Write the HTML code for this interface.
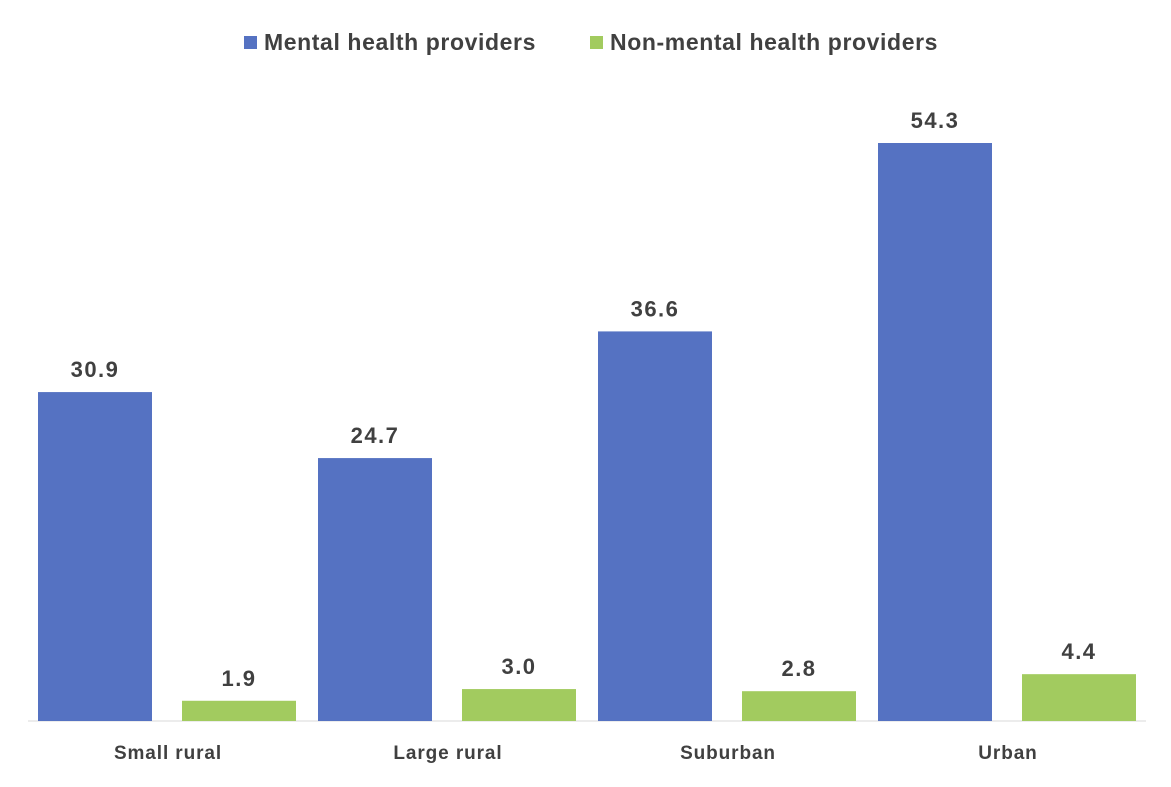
<!DOCTYPE html>
<html><head><meta charset="utf-8"><style>
body{margin:0;background:#fff;font-family:"Liberation Sans",Arial,sans-serif;}
svg text{font-family:"Liberation Sans",Arial,sans-serif;font-weight:bold;fill:#404040;}
</style></head><body>
<svg id="chart" width="1171" height="782">
<g>
<rect x="244" y="36" width="13" height="13" fill="#5572C2"/>
<text x="264" y="50" font-size="23" letter-spacing="0.6">Mental health providers</text>
<rect x="590" y="36" width="13" height="13" fill="#A2CB5F"/>
<text x="610" y="50" font-size="23" letter-spacing="0.6">Non-mental health providers</text>
</g>
<line x1="28" y1="721" x2="1146" y2="721" stroke="#d9d9d9" stroke-width="1"/>
<g id="bars"></g>
</svg>
<script>
const categories = ["Small rural","Large rural","Suburban","Urban"];
const mentalValues = [30.9,24.7,36.6,54.3];
const nonMentalValues = [1.9,3.0,2.8,4.4];
const labels = ["30.9","24.7","36.6","54.3"];
const labels2 = ["1.9","3.0","2.8","4.4"];
const ns="http://www.w3.org/2000/svg";
const g=document.getElementById('bars');
const base=721, scale=578/54.3;
function y(v){return base - v*scale;}
function xg(i){return 28+280*i;}
function mk(tag,attrs){const e=document.createElementNS(ns,tag);for(const k in attrs)e.setAttribute(k,attrs[k]);g.appendChild(e);return e;}
categories.forEach((c,i)=>{
  const x0=xg(i);
  const series=[[mentalValues[i],labels[i],"#5572C2",x0+10,"mental"],[nonMentalValues[i],labels2[i],"#A2CB5F",x0+154,"non-mental"]];
  series.forEach(s=>{
    const r=mk('rect',{x:s[3],y:y(s[0]),width:114,height:s[0]*scale,fill:s[2]});
    
    
    const t=mk('text',{x:s[3]+57,y:y(s[0])-15,'font-size':22,'letter-spacing':1.5,'text-anchor':'middle'});
    t.textContent=s[1];
    
    
  });
  const t=mk('text',{x:x0+140,y:759,'font-size':19,'letter-spacing':0.9,'text-anchor':'middle'});
  t.textContent=c;
  
  
});
</script>
</body></html>
